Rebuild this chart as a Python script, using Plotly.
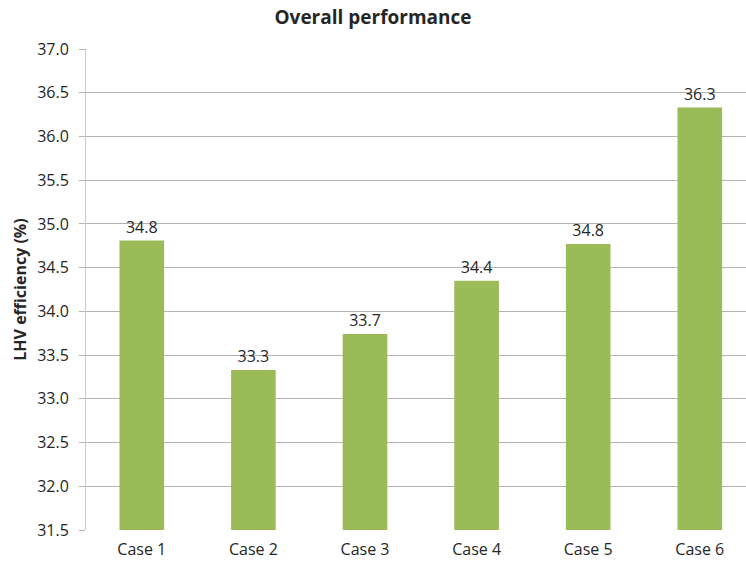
import plotly.graph_objects as go

# Overall LHV efficiency per case
cases = ["Case 1", "Case 2", "Case 3", "Case 4", "Case 5", "Case 6"]
efficiency = [34.81, 33.33, 33.74, 34.35, 34.77, 36.33]
y_ticks = [31.5, 32.0, 32.5, 33.0, 33.5, 34.0, 34.5, 35.0, 35.5, 36.0, 36.5, 37.0]

font_family = "'Open Sans', Arial, sans-serif"

fig = go.Figure(
    go.Bar(
        x=cases,
        y=efficiency,
        marker=dict(color="#9BBB59", line=dict(width=0)),
        text=efficiency,
        texttemplate="%{y:.1f}",
        textposition="outside",
        textfont=dict(size=16, color="#262626", family=font_family),
        cliponaxis=False,
    )
)

fig.update_layout(
    width=746,
    height=567,
    margin=dict(l=86, r=0, t=49, b=37),
    paper_bgcolor="white",
    plot_bgcolor="white",
    bargap=0.6,
    showlegend=False,
    title=dict(
        text="<b>Overall performance</b>",
        x=0.5,
        xanchor="center",
        y=0.97,
        yanchor="middle",
        font=dict(size=19, color="#262626", family=font_family),
    ),
    font=dict(family=font_family, color="#262626"),
)

fig.update_xaxes(
    range=[-0.5, 5.414],
    showgrid=False,
    showline=False,
    ticks="",
    ticklabelstandoff=8,
    tickfont=dict(size=16, color="#262626"),
)

fig.update_yaxes(
    range=[31.5, 37.0],
    tickvals=y_ticks,
    tickformat=".1f",
    showgrid=True,
    gridcolor="#B3B3B3",
    gridwidth=1,
    showline=True,
    linecolor="#C8C8C8",
    linewidth=1,
    ticks="outside",
    ticklen=6,
    tickcolor="#B3B3B3",
    ticklabelstandoff=7,
    tickfont=dict(size=16, color="#262626"),
    zeroline=False,
    title=dict(
        text="<b>LHV efficiency (%)</b>",
        font=dict(size=16, color="#262626"),
        standoff=6,
    ),
)

fig.write_html("out.html")
